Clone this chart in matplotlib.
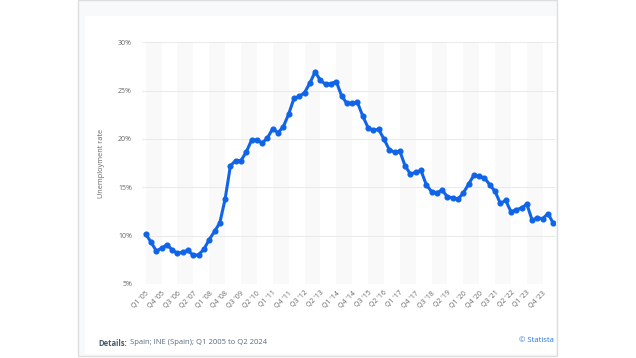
import numpy as np
import matplotlib.pyplot as plt
from matplotlib.patches import Rectangle

plt.rcParams['font.family'] = ['Open Sans', 'DejaVu Sans']

# Spain unemployment rate, Q1 2005 - Q2 2024 (%)
years = list(range(2005, 2025))
rate = [10.17, 9.33, 8.42, 8.70,
        9.07, 8.53, 8.16, 8.31,
        8.47, 7.95, 8.03, 8.60,
        9.60, 10.44, 11.33, 13.79,
        17.24, 17.77, 17.77, 18.66,
        19.89, 19.89, 19.59, 20.11,
        21.08, 20.64, 21.28, 22.56,
        24.19, 24.40, 24.79, 25.77,
        26.94, 26.06, 25.65, 25.73,
        25.93, 24.47, 23.67, 23.70,
        23.78, 22.37, 21.18, 20.90,
        21.00, 20.00, 18.91, 18.63,
        18.75, 17.22, 16.38, 16.55,
        16.74, 15.28, 14.55, 14.45,
        14.70, 14.02, 13.92, 13.78,
        14.41, 15.33, 16.26, 16.13,
        15.98, 15.26, 14.57, 13.33,
        13.65, 12.48, 12.67, 12.87,
        13.26, 11.60, 11.84, 11.76,
        12.29, 11.27]
quarters = ["Q%d '%02d" % (q, y % 100) for y in years for q in range(1, 5)][:len(rate)]
yticks = [5, 10, 15, 20, 25, 30]

W, H = 636, 358
fig = plt.figure(figsize=(W / 100, H / 100), dpi=100)

# card frame
fig.patches.append(Rectangle((78 / W, 1 - 356 / H), (557 - 78) / W, 356 / H,
                             transform=fig.transFigure, facecolor='#f8f9fb',
                             edgecolor='#dedede', linewidth=1, zorder=-2))
fig.patches.append(Rectangle((85 / W, 1 - 354 / H), (556 - 85) / W, (354 - 16) / H,
                             transform=fig.transFigure, facecolor='white',
                             edgecolor='none', zorder=-1))

ax = fig.add_axes([141.7 / W, 1 - 284 / H, (555 - 141.7) / W, (284 - 42.3) / H])
ax.set_facecolor('none')
x = np.arange(len(rate))

# alternating bands
for i in range(0, len(rate), 6):
    ax.axvspan(i, min(i + 3, len(rate) - 1 + 0.3), color='#f9f9f9', zorder=0, lw=0)
for t in yticks:
    ax.axhline(t, color='#e6e6e6', lw=0.6, zorder=1)

ax.plot(x, rate, color='#1064e8', lw=2.2, marker='o', markersize=3.4, zorder=3,
        solid_joinstyle='round')

ax.set_xlim(-0.76, 77.32)
ax.set_ylim(5, 30)
ax.set_yticks(yticks)
ax.set_yticklabels(['%d%%' % t for t in yticks], fontsize=5, color='#666666')
ax.set_xticks(x[::3])
ax.set_xticklabels(quarters[::3], rotation=45, ha='right', va='top',
                   rotation_mode='anchor', fontsize=5, color='#666666')
ax.tick_params(length=0, pad=7)
ax.tick_params(axis='x', pad=4)
for s in ax.spines.values():
    s.set_visible(False)
ax.set_ylabel('Unemployment rate', fontsize=5.3, color='#666666', labelpad=9)

fig.text(98 / W, 1 - 343 / H, 'Details:', fontsize=5.5, fontweight='bold',
         color='#4a5a6a', va='center')
fig.text(130 / W, 1 - 343 / H, 'Spain; INE (Spain); Q1 2005 to Q2 2024', fontsize=5.5,
         color='#5a6a7a', va='center')
fig.text(554 / W, 1 - 340 / H, '© Statista', fontsize=5.5, color='#1a73e8',
         ha='right', va='center')

plt.savefig('out.png', dpi=100)
